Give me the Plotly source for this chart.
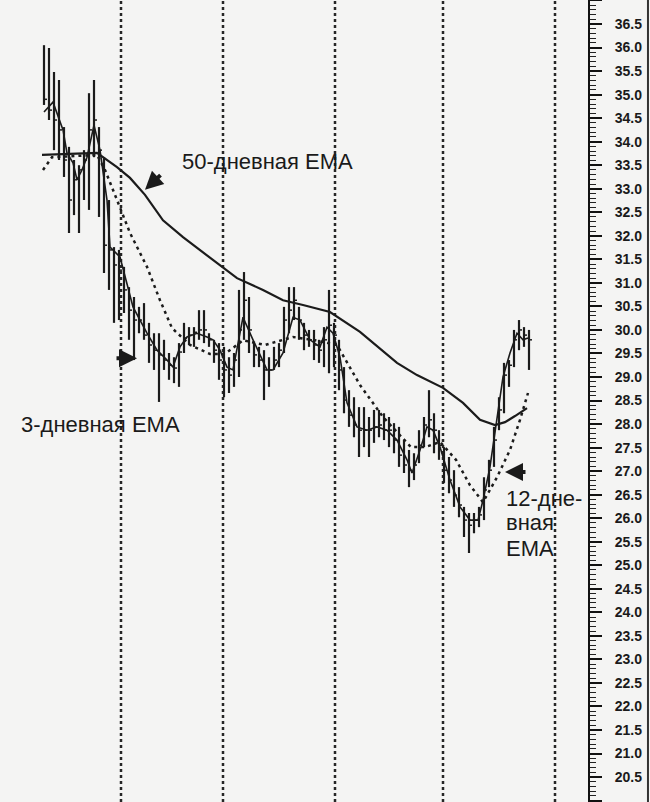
import plotly.graph_objects as go

# ---- data ----
days = list(range(98))
highs = [36.05, 35.99, 35.48, 35.31, 34.31, 33.89, 33.61, 33.50, 33.82, 35.03,
         35.31, 34.31, 33.67, 32.76, 31.76, 31.70, 31.34, 30.91, 30.70, 30.49,
         30.57, 30.15, 29.93, 29.93, 29.79, 29.51, 29.42, 29.72, 30.15, 30.06,
         30.06, 30.42, 30.42, 29.93, 29.79, 29.72, 29.64, 29.42, 29.51, 30.85,
         31.23, 30.70, 29.72, 29.64, 29.57, 29.42, 29.64, 29.72, 30.49, 30.91,
         30.91, 30.49, 30.15, 30.00, 30.00, 29.79, 30.06, 30.85, 30.15, 29.79,
         29.21, 28.72, 28.57, 28.36, 28.36, 28.15, 28.30, 28.30, 28.23, 28.15,
         28.02, 27.94, 27.66, 27.45, 27.38, 27.87, 28.15, 28.72, 28.23, 27.87,
         27.51, 27.30, 27.02, 26.66, 26.24, 26.11, 26.11, 26.24, 26.87, 27.24,
         27.94, 28.57, 29.30, 29.36, 30.00, 30.21, 30.06, 30.00]
lows = [34.78, 34.46, 33.82, 33.61, 33.25, 32.06, 32.44, 32.06, 32.76, 32.55,
        33.67, 32.40, 31.21, 30.85, 30.15, 30.21, 30.36, 29.79, 29.36, 29.93,
        29.79, 29.30, 29.15, 28.47, 29.15, 28.94, 28.87, 28.79, 29.51, 29.68,
        29.64, 29.79, 29.72, 29.64, 29.30, 28.94, 28.57, 28.66, 28.79, 29.00,
        29.79, 29.51, 29.21, 29.21, 28.51, 28.79, 29.15, 29.21, 29.51, 29.93,
        30.21, 29.79, 29.57, 29.64, 29.36, 29.30, 29.21, 29.08, 29.21, 28.72,
        28.23, 27.94, 27.72, 27.30, 27.51, 27.30, 27.60, 27.72, 27.66, 27.51,
        27.38, 27.09, 26.96, 26.66, 26.81, 27.17, 27.51, 27.72, 27.38, 27.24,
        26.75, 26.53, 26.24, 26.02, 25.60, 25.26, 25.68, 25.81, 25.96, 26.66,
        27.09, 27.87, 28.23, 28.79, 29.21, 29.57, 29.64, 29.15]
closes = [34.90, 34.67, 34.46, 34.25, 33.61, 32.76, 33.19, 33.40, 33.61, 34.25,
          34.46, 33.82, 31.80, 31.70, 31.38, 31.27, 30.85, 30.42, 30.21, 30.21,
          29.89, 29.68, 29.57, 29.47, 29.36, 29.25, 29.19, 29.53, 29.83, 29.89,
          29.95, 30.00, 30.00, 29.79, 29.57, 29.36, 29.15, 29.04, 29.36, 30.00,
          30.63, 30.00, 29.47, 29.36, 29.15, 29.15, 29.36, 29.57, 30.21, 30.42,
          30.63, 30.21, 29.89, 29.79, 29.68, 29.57, 29.79, 30.10, 29.89, 29.15,
          28.51, 28.19, 27.98, 27.87, 27.87, 27.87, 27.94, 27.98, 27.87, 27.87,
          27.66, 27.34, 27.13, 27.02, 27.13, 27.55, 27.98, 28.09, 27.87, 27.55,
          27.02, 26.81, 26.49, 26.28, 25.96, 25.85, 25.96, 26.07, 26.60, 27.02,
          27.66, 28.30, 29.04, 29.25, 29.79, 30.00, 29.89, 29.79]

ema3_x = [0, 1.8, 3.8, 4.6, 5.8, 6.6, 7.6, 8.6, 10, 11.2, 12.6, 13.2, 15.2, 16.6,
          17.8, 19.2, 20.6, 22.6, 24.6, 25.8, 27.2, 28.6, 30.6, 32.6, 33.8, 35.2,
          36.6, 37.8, 39.8, 41.8, 44.6, 45.8, 47.8, 49.8, 51.2, 53.2, 55.2, 56.6,
          57.8, 59.2, 60.6, 62.6, 64.6, 66.6, 68.6, 70.6, 72.6, 73.6, 75.2, 76.6,
          77.8, 79.2, 81.2, 83.2, 85.2, 86.8, 87.8, 89.2, 90.6, 91.8, 93.2, 94.6,
          95.8, 96.8]
ema3_y = [34.63, 34.84, 34.25, 33.76, 33.55, 33.19, 33.40, 33.67, 34.35, 33.82,
          32.76, 31.76, 31.55, 31.00, 30.49, 30.21, 29.93, 29.57, 29.36, 29.21,
          29.64, 29.85, 29.93, 29.85, 29.79, 29.57, 29.21, 29.15, 30.27, 29.79,
          29.15, 29.15, 29.51, 30.27, 30.21, 29.79, 29.64, 30.06, 29.93, 29.42,
          28.45, 27.94, 27.87, 27.94, 27.87, 27.66, 27.24, 26.96, 27.45, 27.94,
          27.87, 27.51, 26.81, 26.24, 25.96, 25.96, 26.38, 27.09, 28.09, 29.00,
          29.51, 29.93, 29.79, 29.83]

ema12_x = [-0.2, 1.6, 10.6, 12.2, 14.6, 17.2, 20.6, 23.2, 25.6, 29.2, 33.2, 36.2,
           39.8, 44.2, 49.8, 54.2, 58.6, 63.2, 67.8, 73.4, 76.2, 79.2, 82.4, 85.2,
           87.8, 90.6, 93.2, 95.2, 96.8]
ema12_y = [33.40, 33.67, 33.72, 33.40, 32.76, 32.06, 31.34, 30.63, 30.04, 29.68,
           29.49, 29.49, 29.78, 29.68, 29.85, 29.78, 29.68, 28.83, 28.15, 27.51,
           27.51, 27.62, 27.24, 26.70, 26.34, 26.87, 27.45, 28.09, 28.66]

ema50_x = [-0.4, 10.6, 14.6, 17.2, 20.2, 23.8, 27.8, 31.2, 34.6, 38.6, 43.8, 47.8,
           51.8, 57.2, 63.2, 70.6, 74.6, 79.8, 83.8, 87.2, 90.2, 92.2, 94.2, 96.6]
ema50_y = [33.72, 33.76, 33.46, 33.23, 32.87, 32.33, 31.97, 31.70, 31.42, 31.10,
           30.85, 30.63, 30.53, 30.38, 29.96, 29.30, 29.04, 28.77, 28.45, 28.09,
           27.98, 28.04, 28.17, 28.34]

month_breaks = [15.4, 35.8, 58.2, 79.8, 102.2]

y_min, y_max = 19.97, 37.01
x_min, x_max = -8.8, 108.8

INK = "#1b1b1b"
BG = "#f4f4f3"

fig = go.Figure()

# month separator lines
for mb in month_breaks:
    fig.add_trace(go.Scatter(x=[mb, mb], y=[y_min, y_max], mode="lines",
                             line=dict(color="#262626", width=2.5, dash="3px,3px"),
                             hoverinfo="skip", showlegend=False))

# high-low bars and close ticks
bx, by = [], []
for d, h, l in zip(days, highs, lows):
    bx += [d, d, None]
    by += [h, l, None]
fig.add_trace(go.Scatter(x=bx, y=by, mode="lines",
                         line=dict(color=INK, width=2.2), showlegend=False))
cx, cy = [], []
for d, c in zip(days, closes):
    cx += [d, d + 0.6, None]
    cy += [c, c, None]
fig.add_trace(go.Scatter(x=cx, y=cy, mode="lines",
                         line=dict(color=INK, width=1.5), showlegend=False))

# EMAs
fig.add_trace(go.Scatter(x=ema12_x, y=ema12_y, mode="lines",
                         line=dict(color=INK, width=2.5, dash="3px,4px"), showlegend=False))
fig.add_trace(go.Scatter(x=ema3_x, y=ema3_y, mode="lines",
                         line=dict(color=INK, width=1.6), showlegend=False))
fig.add_trace(go.Scatter(x=ema50_x, y=ema50_y, mode="lines",
                         line=dict(color=INK, width=2.2), showlegend=False))

FONT = dict(family="Liberation Sans, Arial, sans-serif", size=22, color="#1a1a1a")

annotations = [
    dict(x=44.6, y=33.57, text="50-дневная EMA", showarrow=False, font=FONT),
    dict(x=11.2, y=28.0, text="3-дневная EMA", showarrow=False, font=FONT),
    dict(x=92.0, y=26.42, text="12-дне-", showarrow=False, font=FONT, xanchor="left"),
    dict(x=92.0, y=25.90, text="вная", showarrow=False, font=FONT, xanchor="left"),
    dict(x=92.0, y=25.35, text="EMA", showarrow=False, font=FONT, xanchor="left"),
    # arrows
    dict(x=20.2, y=32.98, ax=17, ay=-16, text="", showarrow=True,
         arrowhead=2, arrowsize=0.9, arrowwidth=4, arrowcolor="#1a1a1a"),
    dict(x=18.6, y=29.40, ax=-22, ay=0, text="", showarrow=True,
         arrowhead=2, arrowsize=0.9, arrowwidth=4, arrowcolor="#1a1a1a"),
    dict(x=92.2, y=26.98, ax=22, ay=0, text="", showarrow=True,
         arrowhead=2, arrowsize=0.9, arrowwidth=4, arrowcolor="#1a1a1a"),
]

fig.update_layout(
    width=650, height=802,
    margin=dict(l=0, r=62, t=0, b=0),
    paper_bgcolor=BG, plot_bgcolor=BG,
    showlegend=False,
    annotations=annotations,
    xaxis=dict(range=[x_min, x_max], visible=False, fixedrange=True),
    yaxis=dict(range=[y_min, y_max], side="right", showgrid=False, zeroline=False,
               showline=True, linecolor="#111", linewidth=2,
               ticks="outside", ticklen=12, tickwidth=2, tickcolor="#111",
               dtick=0.5, tick0=0, tickformat=".1f",
               ticklabelstandoff=10,
               tickfont=dict(family="Liberation Sans, Arial, sans-serif", size=14,
                             color="#1a1a1a", weight="bold"),
               minor=dict(ticks="outside", ticklen=6, tickwidth=1, tickcolor="#222",
                          dtick=0.1, tick0=0),
               fixedrange=True),
    shapes=[dict(type="line", xref="paper", yref="paper", x0=1.102, x1=1.102,
                 y0=0, y1=1, line=dict(color="#333", width=2))],
)

fig.write_html("out.html",
               config={"displayModeBar": False},
               post_script="document.body.style.margin='0';"
                           "document.body.style.background='#f4f4f3';")
